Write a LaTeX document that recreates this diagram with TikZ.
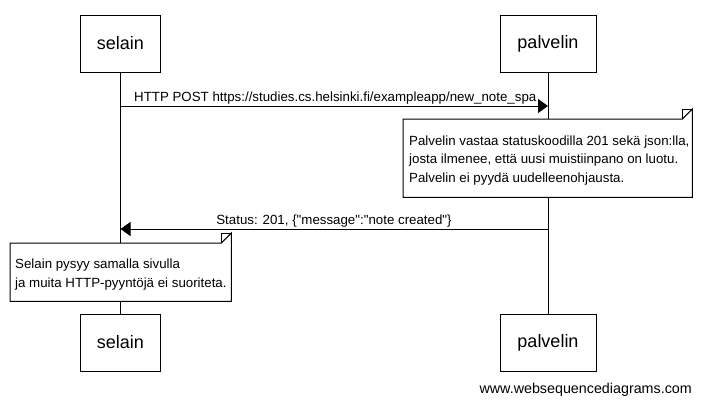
\documentclass[tikz,border=0pt]{standalone}
\usepackage{fontspec}
\setmainfont{Liberation Sans}[Ligatures=TeXOff]
\usetikzlibrary{arrows.meta}
\begin{document}
\begin{tikzpicture}[x=1pt,y=-1pt,
  actor/.style={draw, line width=1pt, minimum width=80pt, minimum height=57pt, inner sep=0pt, font=\fontsize{18}{20}\selectfont},
  actorw/.style={actor, minimum width=96pt},
  lifeline/.style={line width=1pt},
  msg/.style={line width=1pt, -{Triangle[length=10pt,width=14pt]}},
  lbl/.style={font=\fontsize{13.3}{15}\selectfont, inner sep=0pt},
  notebox/.style={line width=1pt, fill=white},
  fold/.style={line width=0.8pt}
]
\useasboundingbox (0,0) rectangle (701,405);
\fill[white] (0,0) rectangle (701,405);

% actors
\node[actor]  (selT) at (120.5,43.5) {selain};
\node[actorw] (palT) at (548,43.5) {palvelin};
\node[actor]  (selB) at (120.5,342.5) {selain};
\node[actorw] (palB) at (548,342.5) {palvelin};

% lifelines
\draw[lifeline] (selT.south) -- (selB.north);
\draw[lifeline] (palT.south) -- (palB.north);

% message 1
\coordinate (m1s) at (selT.south |- 0,106);
\coordinate (m1e) at (palT.south |- 0,106);
\draw[msg] (m1s) -- (m1e);
\node[lbl, anchor=base west] (m1l) at (134,101) {HTTP POST https://studies.cs.helsinki.fi/exampleapp/new\_note\_spa};

% note 1
\node[inner sep=0pt, minimum width=289pt, minimum height=78pt, anchor=north west] (n1) at (403,119) {};
\draw[notebox] (n1.north west) -- ([xshift=-10pt]n1.north east) -- ([yshift=10pt]n1.north east) -- (n1.south east) -- (n1.south west) -- cycle;
\draw[fold] ([xshift=-10pt]n1.north east) -- ([xshift=-10pt,yshift=10pt]n1.north east) -- ([yshift=10pt]n1.north east);
\node[lbl, anchor=base west] (n1a) at (409,145) {Palvelin vastaa statuskoodilla 201 sekä json:lla,};
\node[lbl, anchor=base west] (n1b) at (409,163.5) {josta ilmenee, että uusi muistiinpano on luotu.};
\node[lbl, anchor=base west] (n1c) at (409,182) {Palvelin ei pyydä uudelleenohjausta.};

% message 2
\coordinate (m2s) at (palT.south |- 0,229);
\coordinate (m2e) at (selT.south |- 0,229);
\draw[msg] (m2s) -- (m2e);
\node[lbl, anchor=base] (m2l) at (334,224) {Status: 201, \{"message":"note created"\}};

% note 2
\node[inner sep=0pt, minimum width=221pt, minimum height=58pt, anchor=north west] (n2) at (10,243) {};
\draw[notebox] (n2.north west) -- ([xshift=-10pt]n2.north east) -- ([yshift=10pt]n2.north east) -- (n2.south east) -- (n2.south west) -- cycle;
\draw[fold] ([xshift=-10pt]n2.north east) -- ([xshift=-10pt,yshift=10pt]n2.north east) -- ([yshift=10pt]n2.north east);
\node[lbl, anchor=base west] (n2a) at (15,268) {Selain pysyy samalla sivulla};
\node[lbl, anchor=base west] (n2b) at (15,287) {ja muita HTTP-pyyntöjä ei suoriteta.};

% footer
\node[lbl, font=\fontsize{14.3}{16}\selectfont, anchor=base east] (foot) at (692,393) {www.websequencediagrams.com};
\end{tikzpicture}
\end{document}
